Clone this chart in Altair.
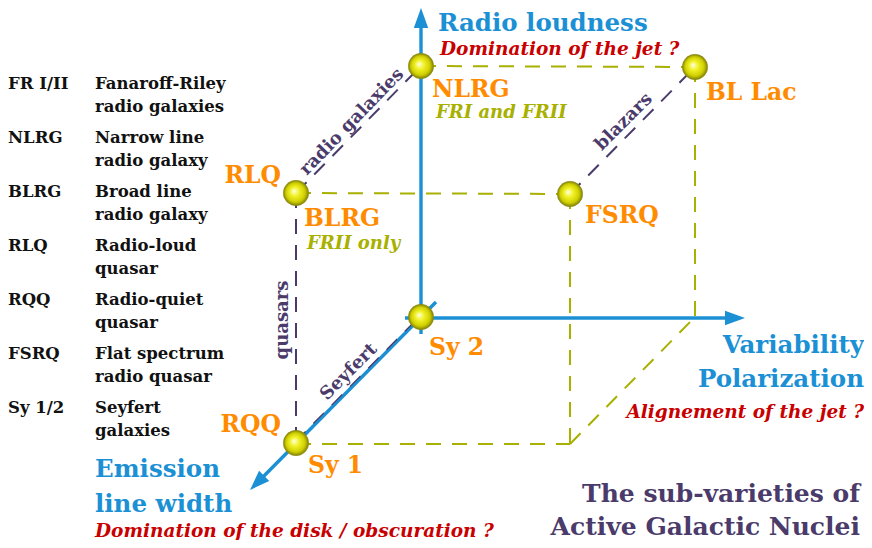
import altair as alt
import pandas as pd

# ---------------- data ----------------
node_names = ["NLRG", "BL Lac", "BLRG", "FSRQ", "Sy 1", "Sy 2"]
node_x = [421, 695, 296, 570, 296, 421]
node_y = [66, 67, 193, 194, 443, 317]

legend_abbr = ["FR I/II", "NLRG", "BLRG", "RLQ", "RQQ", "FSRQ", "Sy 1/2"]
legend_line1 = ["Fanaroff-Riley", "Narrow line", "Broad line", "Radio-loud",
                "Radio-quiet", "Flat spectrum", "Seyfert"]
legend_line2 = ["radio galaxies", "radio galaxy", "radio galaxy", "quasar",
                "quasar", "radio quasar", "galaxies"]

axis_titles = ["Radio loudness", "Variability", "Polarization", "Emission", "line width"]
axis_questions = ["Domination of the jet ?", "Alignement of the jet ?",
                  "Domination of the disk / obscuration ?"]
class_labels = ["radio galaxies", "blazars", "quasars", "Seyfert"]
subclass_notes = ["FRI and FRII", "FRII only"]
title_lines = ["The sub-varieties of", "Active Galactic Nuclei"]

# ---------------- styling ----------------
BLUE = "#1b90d4"
ORANGE = "#ff8c00"
RED = "#c80000"
OLIVE = "#a8b000"
PURPLE = "#4a3b6b"
FONT = "DejaVu Serif"

X = alt.Scale(domain=[8, 864], nice=False, zero=False)
Y = alt.Scale(domain=[8, 540], nice=False, zero=False, reverse=True)


def xy():
    return dict(x=alt.X("x:Q", scale=X, axis=None), y=alt.Y("y:Q", scale=Y, axis=None))


def rules(segs, color, width, dash=None):
    df = pd.DataFrame(segs, columns=["x", "y", "x2", "y2"])
    kw = dict(color=color, strokeWidth=width, strokeCap="butt")
    if dash:
        kw["strokeDash"] = dash
    return alt.Chart(df).mark_rule(**kw).encode(**xy(), x2="x2:Q", y2="y2:Q")


def texts(items, weight="bold", style="normal", align="left", baseline="alphabetic"):
    df = pd.DataFrame(items, columns=["x", "y", "t", "c", "s", "a"])
    return alt.Chart(df).mark_text(
        font=FONT, fontWeight=weight, fontStyle=style, align=align, baseline=baseline
    ).encode(
        **xy(),
        text="t:N",
        color=alt.Color("c:N", scale=None),
        size=alt.Size("s:Q", scale=None),
        angle=alt.Angle("a:Q", scale=None),
    )


n = dict(zip(node_names, zip(node_x, node_y)))

# dashed olive cube edges
olive = rules([
    (n["NLRG"][0], n["NLRG"][1], n["BL Lac"][0], n["BL Lac"][1]),
    (n["BL Lac"][0], n["BL Lac"][1], n["BL Lac"][0], n["Sy 2"][1]),
    (n["BLRG"][0], n["BLRG"][1], n["FSRQ"][0], n["FSRQ"][1]),
    (n["FSRQ"][0], n["FSRQ"][1], n["FSRQ"][0], 444),
    (n["Sy 1"][0], 444, n["FSRQ"][0], 444),
    (n["FSRQ"][0], 444, n["BL Lac"][0], n["Sy 2"][1]),
], OLIVE, 2, [15, 11])

purple = rules([
    (n["BLRG"][0], n["BLRG"][1], n["NLRG"][0], n["NLRG"][1]),
    (n["FSRQ"][0], n["FSRQ"][1], n["BL Lac"][0], n["BL Lac"][1]),
    (n["BLRG"][0], n["BLRG"][1], n["Sy 1"][0], n["Sy 1"][1]),
], PURPLE, 2, [15, 11])

# solid blue axes
axes = rules([
    (421, 334, 421, 26),
    (405, 318, 728, 318),
    (436, 302, 259, 481),
], BLUE, 3.4)

# purple Seyfert edge, slightly offset over the blue diagonal
seyfert_edge = rules([
    (n["Sy 1"][0] - 1, n["Sy 1"][1] - 1, n["Sy 2"][0] - 1, n["Sy 2"][1] - 1),
], PURPLE, 1.3, [15, 11])

heads = alt.Chart(pd.DataFrame({"x": [421, 745, 250], "y": [8, 318, 490], "a": [0, 90, 225]})).mark_point(
    shape="M0,0L-0.36,1L0.36,1Z", filled=True, opacity=1, color=BLUE, size=1600
).encode(**xy(), angle=alt.Angle("a:Q", scale=None))

ball_grad = alt.RadialGradient(
    gradient="radial",
    stops=[alt.GradientStop(color="#ffffe8", offset=0),
           alt.GradientStop(color="#f2f22a", offset=0.35),
           alt.GradientStop(color="#cfcf00", offset=0.75),
           alt.GradientStop(color="#7f7f0a", offset=1)],
    x1=0.42, y1=0.42, r1=0, x2=0.5, y2=0.5, r2=0.5,
)
balls = alt.Chart(pd.DataFrame({"x": node_x, "y": node_y})).mark_circle(
    size=640, fill=ball_grad, opacity=1, stroke="#8a8a10", strokeWidth=0.6
).encode(**xy())

OS = 23.5   # orange labels
BS = 24.5   # blue axis titles
RS = 18.5   # red questions
GS = 18     # olive notes
PS = 18     # purple rotated
TS = 25     # title
LS = 16.5   # legend

orange_left = texts([
    (432, 97, "NLRG", ORANGE, OS, 0),
    (706, 100, "BL Lac", ORANGE, OS, 0),
    (304, 226, "BLRG", ORANGE, OS, 0),
    (585, 223, "FSRQ", ORANGE, OS, 0),
    (429, 355, "Sy 2", ORANGE, OS, 0),
    (308, 473, "Sy 1", ORANGE, OS, 0),
])
orange_right = texts([
    (281, 183, "RLQ", ORANGE, OS, 0),
    (281, 432, "RQQ", ORANGE, OS, 0),
], align="right")

blue_left = texts([
    (438, 31, axis_titles[0], BLUE, BS, 0),
    (95, 477, axis_titles[3], BLUE, BS, 0),
    (95, 512, axis_titles[4], BLUE, BS, 0),
])
blue_right = texts([
    (864, 353, axis_titles[1], BLUE, BS, 0),
    (864, 387, axis_titles[2], BLUE, BS, 0),
], align="right")

red_left = texts([
    (440, 55, axis_questions[0], RED, RS, 0),
    (95, 537, axis_questions[2], RED, RS, 0),
], style="italic")
red_right = texts([
    (864, 418, axis_questions[1], RED, RS, 0),
], style="italic", align="right")

olive_notes = texts([
    (436, 118, subclass_notes[0], OLIVE, GS, 0),
    (307, 249, subclass_notes[1], OLIVE, GS, 0),
], style="italic")

rotated = texts([
    (352, 122, class_labels[0], PURPLE, PS, 314),
    (624, 122, class_labels[1], PURPLE, PS, 315),
    (283, 320, class_labels[2], PURPLE, PS, 270),
    (349, 372, class_labels[3], PURPLE, PS, 315),
], align="center", baseline="middle")

title = texts([
    (860, 502, title_lines[0], PURPLE, TS, 0),
    (860, 535, title_lines[1], PURPLE, TS, 0),
], align="right")

leg_items = []
for i, (a, l1, l2) in enumerate(zip(legend_abbr, legend_line1, legend_line2)):
    yb = 89 + 54 * i
    leg_items.append((8, yb, a, "#111111", LS, 0))
    leg_items.append((95, yb, l1, "#111111", LS, 0))
    leg_items.append((95, yb + 23, l2, "#111111", LS, 0))
legend = texts(leg_items)

chart = alt.layer(
    olive, purple, axes, seyfert_edge, heads, balls,
    orange_left, orange_right, blue_left, blue_right, red_left, red_right,
    olive_notes, rotated, title, legend,
).properties(
    width=856, height=532, autosize=alt.AutoSizeParams(type="none"), padding=0,
    background="white",
).configure_view(stroke=None)

chart.save("out.html", embed_options={"renderer": "svg", "actions": False})
